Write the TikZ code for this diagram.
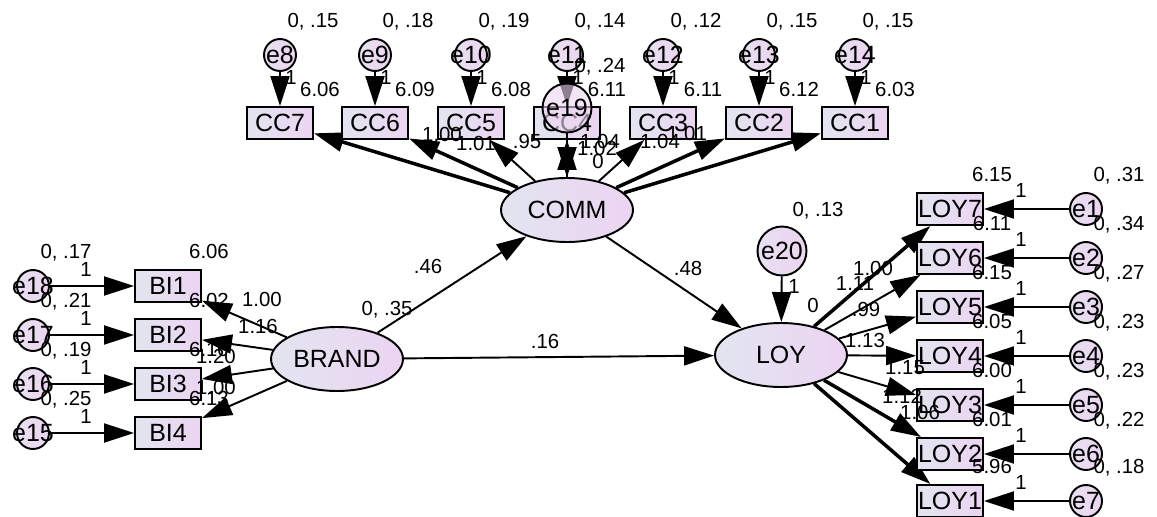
\documentclass[tikz,border=0pt]{standalone}
\usepackage{fontspec}
\setmainfont{Liberation Sans}
\usetikzlibrary{arrows.meta,shapes.geometric,backgrounds}
\definecolor{boxl}{RGB}{226,229,240}
\definecolor{boxr}{RGB}{236,212,242}
\definecolor{errl}{RGB}{232,224,242}
\definecolor{errr}{RGB}{236,212,240}
\tikzset{
 obs/.style={draw,line width=1.1pt,rectangle,minimum width=1.32cm,minimum height=0.64cm,inner sep=0pt,left color=boxl,right color=boxr,font=\fontsize{14.2}{16}\selectfont},
 lat/.style={draw,line width=1.1pt,ellipse,minimum width=2.64cm,minimum height=1.28cm,inner sep=0pt,left color=boxl,right color=boxr,font=\fontsize{14.2}{16}\selectfont},
 errshape/.style={draw,line width=1.1pt,circle,minimum size=0.64cm,inner sep=0pt,font=\fontsize{14.2}{16}\selectfont},
 err/.style={errshape,left color=errl,right color=errr},
 bigerr/.style={err,minimum size=0.98cm},
 lab/.style={inner sep=0pt,font=\fontsize{11.6}{13}\selectfont},
 path/.style={line width=1.1pt,-{Triangle[length=0.6cm,width=0.38cm]}},
 heavy/.style={path,line width=2pt}
}
\begin{document}
\begin{tikzpicture}[x=0.02cm,y=-0.02cm]
\useasboundingbox (0,0) rectangle (1157,517);
\node[lat] (brand) at (337,359) {BRAND};
\node[lat] (comm) at (567,210) {COMM};
\node[lat] (loy) at (781,355) {LOY};
\node[bigerr] (e20) at (782,251) {e20};
% top indicators
\foreach \x/\e/\c/\v/\i in {280/8/7/.15/6.06,375/9/6/.18/6.09,471/10/5/.19/6.08,567/11/4/.14/6.11,663/12/3/.12/6.11,759/13/2/.15/6.12,855/14/1/.15/6.03}{
 \node[obs] (cc\c) at (\x,123) {CC\c};
 \node[err] (e\e) at (\x,55) {\makebox[0pt]{e\e}};
 \node[lab] (ve\e) at (\x+33,22) {0, \v};
 \node[lab] (we\e) at (\x+11,77) {1};
 \node[lab] (icc\c) at (\x+40,89) {\i};
 \begin{pgfonlayer}{background}
 \draw[path] (e\e) -- (cc\c);
 \end{pgfonlayer}
 }
% left indicators
\foreach \y/\e/\b/\v/\i in {286/18/1/.17/6.06,335/17/2/.21/6.02,384/16/3/.19/6.10,433/15/4/.25/6.13}{
 \node[obs] (bi\b) at (168,\y) {BI\b};
 \node[err] (e\e) at (33,\y) {\makebox[0pt]{e\e}};
 \node[lab] (ve\e) at (66,\y-33) {0, \v};
 \node[lab] (we\e) at (86,\y-17) {1};
 \node[lab] (ibi\b) at (209,\y-35) {\i};
 \draw[path] (e\e) -- (bi\b);
 \begin{pgfonlayer}{background}
 \draw[path] (brand) -- (bi\b);
 \end{pgfonlayer}
 }
% right indicators
\foreach \y/\e/\l/\v/\i in {209/1/7/.31/6.15,258/2/6/.34/6.11,307/3/5/.27/6.15,356/4/4/.23/6.05,405/5/3/.23/6.00,454/6/2/.22/6.01,501/7/1/.18/5.96}{
 \node[obs] (loy\l) at (950,\y) {LOY\l};
 \node[err] (e\e) at (1086,\y) {\makebox[0pt]{e\e}};
 \node[lab] (ve\e) at (1119,\y-33) {0, \v};
 \node[lab] (we\e) at (1021,\y-19) {1};
 \node[lab] (iloy\l) at (992,\y-35) {\i};
 \draw[path] (e\e) -- (loy\l);
 }
\begin{pgfonlayer}{background}
\draw[heavy] (comm) -- (cc7);
\draw[heavy] (comm) -- (cc6);
\draw[path] (comm) -- (cc5);
\draw[path] (comm) -- (cc4);
\draw[path] (comm) -- (cc3);
\draw[heavy] (comm) -- (cc2);
\draw[heavy] (comm) -- (cc1);
\draw[heavy] (loy) -- (loy7);
\draw[path] (loy) -- (loy6);
\draw[path] (loy) -- (loy5);
\draw[path] (loy) -- (loy4);
\draw[path] (loy) -- (loy3);
\draw[heavy] (loy) -- (loy2);
\draw[heavy] (loy) -- (loy1);
\end{pgfonlayer}
\node[errshape,minimum size=0.98cm,fill=errr,fill opacity=0.6,text opacity=1,draw opacity=1] (e19) at (567,108) {e19};
\draw[path] (e19) -- (comm);
\draw[path] (e20) -- (loy);
\draw[path] (brand) -- (comm);
\draw[path] (comm) -- (loy);
\draw[path] (brand) -- (loy);
% estimates
\node[lab] (vbrand) at (387,310) {0, .35};
\node[lab] (pbc) at (428,266) {.46};
\node[lab] (pcl) at (688,268) {.48};
\node[lab] (pbl) at (545,341) {.16};
\node[lab] (ve19) at (600,67) {0, .24};
\node[lab] (ve20) at (818,211) {0, .13};
\node[lab] (we20) at (794,286) {1};
\node[lab] (iloy) at (813,305) {0};
\foreach \x/\y/\t/\n in {442/134/1.00/7,476/143/1.01/6,527/141/.95/5,600/141/1.04/4,597/148/1.02/19,660/141/1.04/3,687/133/1.01/2}{
 \node[lab] (lcc\n) at (\x,\y) {\t};
 }
\node[lab] (icomm) at (598,161) {0};
\foreach \x/\y/\t/\n in {262/299/1.00/1,258/326/1.16/2,216/356/1.20/3,216/387/1.00/4}{
 \node[lab] (lbi\n) at (\x,\y) {\t};
 }
\foreach \x/\y/\t/\n in {873/268/1.00/7,855/283/1.11/6,866/309/.99/5,865/340/1.13/4,905/368/1.15/3,902/396/1.12/2,920/412/1.06/1}{
 \node[lab] (lloy\n) at (\x,\y) {\t};
 }
\end{tikzpicture}
\end{document}
